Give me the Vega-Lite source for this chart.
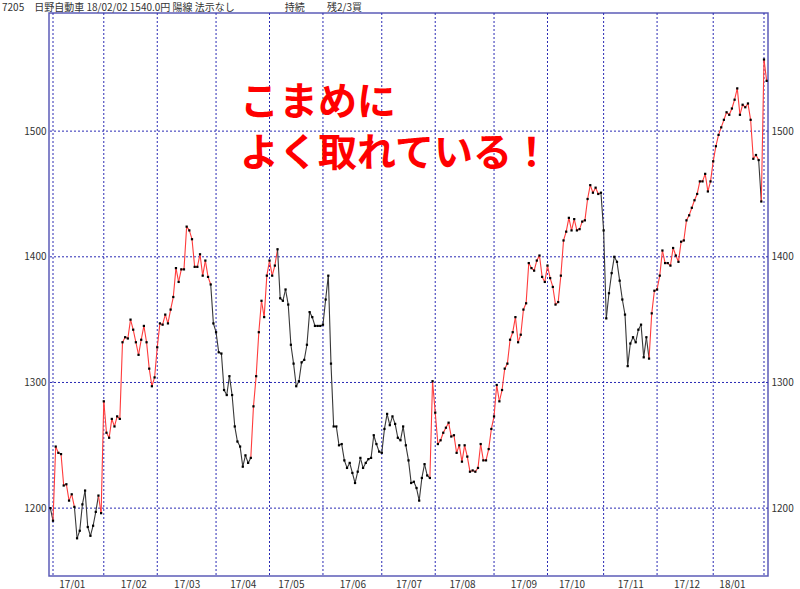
{
  "$schema": "https://vega.github.io/schema/vega-lite/v6.json",
  "autosize": "none",
  "width": 719,
  "height": 563,
  "padding": {"left": 49, "top": 13, "right": 32, "bottom": 13},
  "background": "white",
  "title": {
    "text": "7205　日野自動車 18/02/02 1540.0円 陽線 法示なし　　　　　持続　　 残2/3買",
    "anchor": "start",
    "frame": "group",
    "dx": -47,
    "dy": 12,
    "offset": 2,
    "baseline": "bottom",
    "font": "Noto Sans CJK JP",
    "fontSize": 10,
    "fontWeight": "normal",
    "color": "#333333"
  },
  "config": {
    "view": {"stroke": "#5c5cb8", "strokeWidth": 1.5},
    "axis": {
      "labelFont": "Noto Sans CJK JP",
      "labelFontSize": 10,
      "labelColor": "#333333",
      "ticks": false,
      "domain": false,
      "title": null
    }
  },
  "datasets": {
    "price": [
      {"d":"16/12/30","v":1200,"c":"b"},
      {"d":"17/01/04","v":1190,"c":"b"},{"d":"17/01/05","v":1249,"c":"r"},{"d":"17/01/06","v":1244,"c":"r"},{"d":"17/01/10","v":1243,"c":"r"},{"d":"17/01/11","v":1218,"c":"r"},{"d":"17/01/12","v":1219,"c":"r"},{"d":"17/01/13","v":1206,"c":"r"},{"d":"17/01/16","v":1211,"c":"r"},{"d":"17/01/17","v":1201,"c":"r"},{"d":"17/01/18","v":1176,"c":"b"},{"d":"17/01/19","v":1182,"c":"b"},{"d":"17/01/20","v":1203,"c":"b"},{"d":"17/01/23","v":1214,"c":"b"},{"d":"17/01/24","v":1185,"c":"b"},{"d":"17/01/25","v":1178,"c":"b"},{"d":"17/01/26","v":1186,"c":"b"},{"d":"17/01/27","v":1197,"c":"b"},{"d":"17/01/30","v":1210,"c":"b"},{"d":"17/01/31","v":1196,"c":"r"},
      {"d":"17/02/01","v":1285,"c":"r"},{"d":"17/02/02","v":1260,"c":"r"},{"d":"17/02/03","v":1256,"c":"r"},{"d":"17/02/06","v":1271,"c":"r"},{"d":"17/02/07","v":1265,"c":"r"},{"d":"17/02/08","v":1273,"c":"r"},{"d":"17/02/09","v":1271,"c":"r"},{"d":"17/02/10","v":1332,"c":"r"},{"d":"17/02/13","v":1336,"c":"r"},{"d":"17/02/14","v":1335,"c":"r"},{"d":"17/02/15","v":1350,"c":"r"},{"d":"17/02/16","v":1342,"c":"r"},{"d":"17/02/17","v":1332,"c":"r"},{"d":"17/02/20","v":1322,"c":"r"},{"d":"17/02/21","v":1334,"c":"r"},{"d":"17/02/22","v":1345,"c":"r"},{"d":"17/02/23","v":1332,"c":"r"},{"d":"17/02/24","v":1311,"c":"r"},{"d":"17/02/27","v":1297,"c":"r"},{"d":"17/02/28","v":1304,"c":"r"},
      {"d":"17/03/01","v":1328,"c":"r"},{"d":"17/03/02","v":1347,"c":"r"},{"d":"17/03/03","v":1346,"c":"r"},{"d":"17/03/06","v":1354,"c":"r"},{"d":"17/03/07","v":1347,"c":"r"},{"d":"17/03/08","v":1358,"c":"r"},{"d":"17/03/09","v":1368,"c":"r"},{"d":"17/03/10","v":1391,"c":"r"},{"d":"17/03/13","v":1380,"c":"r"},{"d":"17/03/14","v":1390,"c":"r"},{"d":"17/03/15","v":1390,"c":"r"},{"d":"17/03/16","v":1424,"c":"r"},{"d":"17/03/17","v":1421,"c":"r"},{"d":"17/03/21","v":1414,"c":"r"},{"d":"17/03/22","v":1392,"c":"r"},{"d":"17/03/23","v":1392,"c":"r"},{"d":"17/03/24","v":1402,"c":"r"},{"d":"17/03/27","v":1385,"c":"r"},{"d":"17/03/28","v":1397,"c":"r"},{"d":"17/03/29","v":1384,"c":"r"},{"d":"17/03/30","v":1378,"c":"r"},{"d":"17/03/31","v":1347,"c":"b"},
      {"d":"17/04/03","v":1340,"c":"b"},{"d":"17/04/04","v":1324,"c":"b"},{"d":"17/04/05","v":1323,"c":"b"},{"d":"17/04/06","v":1294,"c":"b"},{"d":"17/04/07","v":1290,"c":"b"},{"d":"17/04/10","v":1305,"c":"b"},{"d":"17/04/11","v":1290,"c":"b"},{"d":"17/04/12","v":1265,"c":"b"},{"d":"17/04/13","v":1253,"c":"b"},{"d":"17/04/14","v":1249,"c":"b"},{"d":"17/04/17","v":1233,"c":"b"},{"d":"17/04/18","v":1242,"c":"b"},{"d":"17/04/19","v":1236,"c":"b"},{"d":"17/04/20","v":1240,"c":"b"},{"d":"17/04/21","v":1281,"c":"r"},{"d":"17/04/24","v":1305,"c":"r"},{"d":"17/04/25","v":1340,"c":"r"},{"d":"17/04/26","v":1365,"c":"r"},{"d":"17/04/27","v":1352,"c":"r"},{"d":"17/04/28","v":1385,"c":"r"},
      {"d":"17/05/01","v":1397,"c":"r"},{"d":"17/05/02","v":1385,"c":"r"},{"d":"17/05/08","v":1393,"c":"r"},{"d":"17/05/09","v":1406,"c":"r"},{"d":"17/05/10","v":1367,"c":"b"},{"d":"17/05/11","v":1365,"c":"b"},{"d":"17/05/12","v":1374,"c":"b"},{"d":"17/05/15","v":1362,"c":"b"},{"d":"17/05/16","v":1330,"c":"b"},{"d":"17/05/17","v":1315,"c":"b"},{"d":"17/05/18","v":1297,"c":"b"},{"d":"17/05/19","v":1301,"c":"b"},{"d":"17/05/22","v":1316,"c":"b"},{"d":"17/05/23","v":1318,"c":"b"},{"d":"17/05/24","v":1330,"c":"b"},{"d":"17/05/25","v":1356,"c":"b"},{"d":"17/05/26","v":1352,"c":"b"},{"d":"17/05/29","v":1345,"c":"b"},{"d":"17/05/30","v":1345,"c":"b"},{"d":"17/05/31","v":1345,"c":"b"},
      {"d":"17/06/01","v":1346,"c":"b"},{"d":"17/06/02","v":1366,"c":"b"},{"d":"17/06/05","v":1385,"c":"b"},{"d":"17/06/06","v":1315,"c":"b"},{"d":"17/06/07","v":1265,"c":"b"},{"d":"17/06/08","v":1265,"c":"b"},{"d":"17/06/09","v":1250,"c":"b"},{"d":"17/06/12","v":1251,"c":"b"},{"d":"17/06/13","v":1238,"c":"b"},{"d":"17/06/14","v":1232,"c":"b"},{"d":"17/06/15","v":1236,"c":"b"},{"d":"17/06/16","v":1228,"c":"b"},{"d":"17/06/19","v":1220,"c":"b"},{"d":"17/06/20","v":1229,"c":"b"},{"d":"17/06/21","v":1240,"c":"b"},{"d":"17/06/22","v":1232,"c":"b"},{"d":"17/06/23","v":1236,"c":"b"},{"d":"17/06/26","v":1239,"c":"b"},{"d":"17/06/27","v":1240,"c":"b"},{"d":"17/06/28","v":1258,"c":"b"},{"d":"17/06/29","v":1251,"c":"b"},{"d":"17/06/30","v":1245,"c":"b"},
      {"d":"17/07/03","v":1244,"c":"b"},{"d":"17/07/04","v":1263,"c":"b"},{"d":"17/07/05","v":1275,"c":"b"},{"d":"17/07/06","v":1266,"c":"b"},{"d":"17/07/07","v":1273,"c":"b"},{"d":"17/07/10","v":1267,"c":"b"},{"d":"17/07/11","v":1256,"c":"b"},{"d":"17/07/12","v":1254,"c":"b"},{"d":"17/07/13","v":1265,"c":"b"},{"d":"17/07/14","v":1250,"c":"b"},{"d":"17/07/18","v":1238,"c":"b"},{"d":"17/07/19","v":1220,"c":"b"},{"d":"17/07/20","v":1221,"c":"b"},{"d":"17/07/21","v":1216,"c":"b"},{"d":"17/07/24","v":1206,"c":"b"},{"d":"17/07/25","v":1224,"c":"b"},{"d":"17/07/26","v":1235,"c":"b"},{"d":"17/07/27","v":1226,"c":"b"},{"d":"17/07/28","v":1224,"c":"b"},{"d":"17/07/31","v":1301,"c":"r"},
      {"d":"17/08/01","v":1276,"c":"r"},{"d":"17/08/02","v":1251,"c":"r"},{"d":"17/08/03","v":1254,"c":"r"},{"d":"17/08/04","v":1260,"c":"r"},{"d":"17/08/07","v":1264,"c":"r"},{"d":"17/08/08","v":1268,"c":"r"},{"d":"17/08/09","v":1257,"c":"r"},{"d":"17/08/10","v":1258,"c":"r"},{"d":"17/08/14","v":1244,"c":"r"},{"d":"17/08/15","v":1250,"c":"r"},{"d":"17/08/16","v":1237,"c":"r"},{"d":"17/08/17","v":1250,"c":"r"},{"d":"17/08/18","v":1241,"c":"r"},{"d":"17/08/21","v":1229,"c":"r"},{"d":"17/08/22","v":1230,"c":"r"},{"d":"17/08/23","v":1229,"c":"r"},{"d":"17/08/24","v":1232,"c":"r"},{"d":"17/08/25","v":1251,"c":"r"},{"d":"17/08/28","v":1238,"c":"r"},{"d":"17/08/29","v":1238,"c":"r"},{"d":"17/08/30","v":1247,"c":"r"},{"d":"17/08/31","v":1263,"c":"r"},
      {"d":"17/09/01","v":1273,"c":"r"},{"d":"17/09/04","v":1298,"c":"r"},{"d":"17/09/05","v":1285,"c":"r"},{"d":"17/09/06","v":1294,"c":"r"},{"d":"17/09/07","v":1311,"c":"r"},{"d":"17/09/08","v":1315,"c":"r"},{"d":"17/09/11","v":1334,"c":"r"},{"d":"17/09/12","v":1340,"c":"r"},{"d":"17/09/13","v":1352,"c":"r"},{"d":"17/09/14","v":1332,"c":"r"},{"d":"17/09/15","v":1338,"c":"r"},{"d":"17/09/19","v":1358,"c":"r"},{"d":"17/09/20","v":1363,"c":"r"},{"d":"17/09/21","v":1395,"c":"r"},{"d":"17/09/22","v":1391,"c":"r"},{"d":"17/09/25","v":1389,"c":"r"},{"d":"17/09/26","v":1397,"c":"r"},{"d":"17/09/27","v":1401,"c":"r"},{"d":"17/09/28","v":1384,"c":"r"},{"d":"17/09/29","v":1380,"c":"r"},
      {"d":"17/10/02","v":1393,"c":"r"},{"d":"17/10/03","v":1383,"c":"r"},{"d":"17/10/04","v":1376,"c":"r"},{"d":"17/10/05","v":1362,"c":"r"},{"d":"17/10/06","v":1364,"c":"r"},{"d":"17/10/10","v":1385,"c":"r"},{"d":"17/10/11","v":1413,"c":"r"},{"d":"17/10/12","v":1420,"c":"r"},{"d":"17/10/13","v":1431,"c":"r"},{"d":"17/10/16","v":1421,"c":"r"},{"d":"17/10/17","v":1430,"c":"r"},{"d":"17/10/18","v":1421,"c":"r"},{"d":"17/10/19","v":1422,"c":"r"},{"d":"17/10/20","v":1428,"c":"r"},{"d":"17/10/23","v":1429,"c":"r"},{"d":"17/10/24","v":1446,"c":"r"},{"d":"17/10/25","v":1457,"c":"r"},{"d":"17/10/26","v":1451,"c":"r"},{"d":"17/10/27","v":1455,"c":"r"},{"d":"17/10/30","v":1450,"c":"r"},{"d":"17/10/31","v":1451,"c":"r"},
      {"d":"17/11/01","v":1421,"c":"b"},{"d":"17/11/02","v":1351,"c":"b"},{"d":"17/11/06","v":1371,"c":"b"},{"d":"17/11/07","v":1387,"c":"b"},{"d":"17/11/08","v":1400,"c":"b"},{"d":"17/11/09","v":1396,"c":"b"},{"d":"17/11/10","v":1381,"c":"b"},{"d":"17/11/13","v":1366,"c":"b"},{"d":"17/11/14","v":1354,"c":"b"},{"d":"17/11/15","v":1313,"c":"b"},{"d":"17/11/16","v":1331,"c":"b"},{"d":"17/11/17","v":1336,"c":"b"},{"d":"17/11/20","v":1332,"c":"b"},{"d":"17/11/21","v":1342,"c":"b"},{"d":"17/11/22","v":1346,"c":"b"},{"d":"17/11/24","v":1320,"c":"b"},{"d":"17/11/27","v":1336,"c":"b"},{"d":"17/11/28","v":1319,"c":"b"},{"d":"17/11/29","v":1355,"c":"r"},{"d":"17/11/30","v":1373,"c":"r"},
      {"d":"17/12/01","v":1374,"c":"r"},{"d":"17/12/04","v":1385,"c":"r"},{"d":"17/12/05","v":1405,"c":"r"},{"d":"17/12/06","v":1395,"c":"r"},{"d":"17/12/07","v":1395,"c":"r"},{"d":"17/12/08","v":1393,"c":"r"},{"d":"17/12/11","v":1407,"c":"r"},{"d":"17/12/12","v":1401,"c":"r"},{"d":"17/12/13","v":1396,"c":"r"},{"d":"17/12/14","v":1412,"c":"r"},{"d":"17/12/15","v":1413,"c":"r"},{"d":"17/12/18","v":1429,"c":"r"},{"d":"17/12/19","v":1433,"c":"r"},{"d":"17/12/20","v":1439,"c":"r"},{"d":"17/12/21","v":1445,"c":"r"},{"d":"17/12/22","v":1450,"c":"r"},{"d":"17/12/25","v":1460,"c":"r"},{"d":"17/12/26","v":1460,"c":"r"},{"d":"17/12/27","v":1466,"c":"r"},{"d":"17/12/28","v":1452,"c":"r"},{"d":"17/12/29","v":1460,"c":"r"},
      {"d":"18/01/04","v":1476,"c":"r"},{"d":"18/01/05","v":1488,"c":"r"},{"d":"18/01/09","v":1497,"c":"r"},{"d":"18/01/10","v":1503,"c":"r"},{"d":"18/01/11","v":1509,"c":"r"},{"d":"18/01/12","v":1515,"c":"r"},{"d":"18/01/15","v":1513,"c":"r"},{"d":"18/01/16","v":1518,"c":"r"},{"d":"18/01/17","v":1525,"c":"r"},{"d":"18/01/18","v":1534,"c":"r"},{"d":"18/01/19","v":1513,"c":"r"},{"d":"18/01/22","v":1521,"c":"r"},{"d":"18/01/23","v":1519,"c":"r"},{"d":"18/01/24","v":1522,"c":"r"},{"d":"18/01/25","v":1509,"c":"r"},{"d":"18/01/26","v":1478,"c":"r"},{"d":"18/01/29","v":1481,"c":"r"},{"d":"18/01/30","v":1477,"c":"r"},{"d":"18/01/31","v":1444,"c":"b"},
      {"d":"18/02/01","v":1557,"c":"r"},{"d":"18/02/02","v":1540,"c":"r"}
    ],
    "months": [
      {"d":"17/01/04"},{"d":"17/02/01"},{"d":"17/03/01"},{"d":"17/04/03"},{"d":"17/05/01"},{"d":"17/06/01"},{"d":"17/07/03"},{"d":"17/08/01"},{"d":"17/09/01"},{"d":"17/10/02"},{"d":"17/11/01"},{"d":"17/12/01"},{"d":"18/01/04"},{"d":"18/02/01"}
    ],
    "levels": [{"v":1200},{"v":1300},{"v":1400},{"v":1500}],
    "notes": [
      {"d":"17/04/14","v":1522,"t":"こまめに\nよく取れている！"}
    ]
  },
  "encoding": {
    "x": {
      "field": "d",
      "type": "ordinal",
      "sort": "ascending",
      "scale": {"type": "point", "padding": 0.5},
      "axis": {
        "values": ["17/01/16","17/02/16","17/03/16","17/04/17","17/05/16","17/06/16","17/07/18","17/08/16","17/09/19","17/10/16","17/11/16","17/12/18","18/01/16"],
        "labelExpr": "slice(datum.value, 0, 5)",
        "labelPadding": 3,
        "labelAngle": 0,
        "grid": false
      }
    }
  },
  "layer": [
    {
      "data": {"name": "months"},
      "mark": {"type": "rule", "color": "#2a2ab4", "strokeWidth": 1, "strokeDash": [2, 2]},
      "encoding": {}
    },
    {
      "data": {"name": "levels"},
      "mark": {"type": "rule", "color": "#2a2ab4", "strokeWidth": 1, "strokeDash": [2, 2]},
      "encoding": {
        "x": null,
        "y": {"field": "v", "type": "quantitative", "scale": {"domain": [1146, 1594], "nice": false, "zero": false},
              "axis": {"orient": "left", "values": [1200, 1300, 1400, 1500], "format": "d", "grid": false, "labelPadding": 3}}
      }
    },
    {
      "data": {"name": "price"},
      "transform": [
        {"window": [{"op": "lag", "field": "v", "as": "pv"}, {"op": "lag", "field": "d", "as": "pd"}], "sort": [{"field": "d"}]},
        {"filter": "datum.pd != null"}
      ],
      "mark": {"type": "rule", "strokeWidth": 1.1, "strokeCap": "round"},
      "encoding": {
        "x2": {"field": "pd"},
        "y": {"field": "v", "type": "quantitative", "scale": {"domain": [1146, 1594], "nice": false, "zero": false},
              "axis": {"orient": "right", "values": [1200, 1300, 1400, 1500], "format": "d", "grid": false, "labelPadding": 3}},
        "y2": {"field": "pv"},
        "color": {"field": "c", "type": "nominal", "scale": {"domain": ["r", "b"], "range": ["#ff3c3c", "#383838"]}, "legend": null}
      }
    },
    {
      "data": {"name": "price"},
      "mark": {"type": "point", "shape": "square", "size": 5, "filled": true, "color": "#000000", "opacity": 1},
      "encoding": {
        "y": {"field": "v", "type": "quantitative", "scale": {"domain": [1146, 1594], "nice": false, "zero": false}, "axis": null}
      }
    },
    {
      "data": {"name": "notes"},
      "mark": {"type": "text", "align": "left", "baseline": "middle", "lineBreak": "\n", "lineHeight": 51, "font": "Noto Sans CJK JP", "fontSize": 39, "fontWeight": "bold", "color": "#ff0000"},
      "encoding": {
        "y": {"field": "v", "type": "quantitative", "scale": {"domain": [1146, 1594], "nice": false, "zero": false}, "axis": null},
        "text": {"field": "t"}
      }
    }
  ],
  "resolve": {"axis": {"y": "independent"}}
}
